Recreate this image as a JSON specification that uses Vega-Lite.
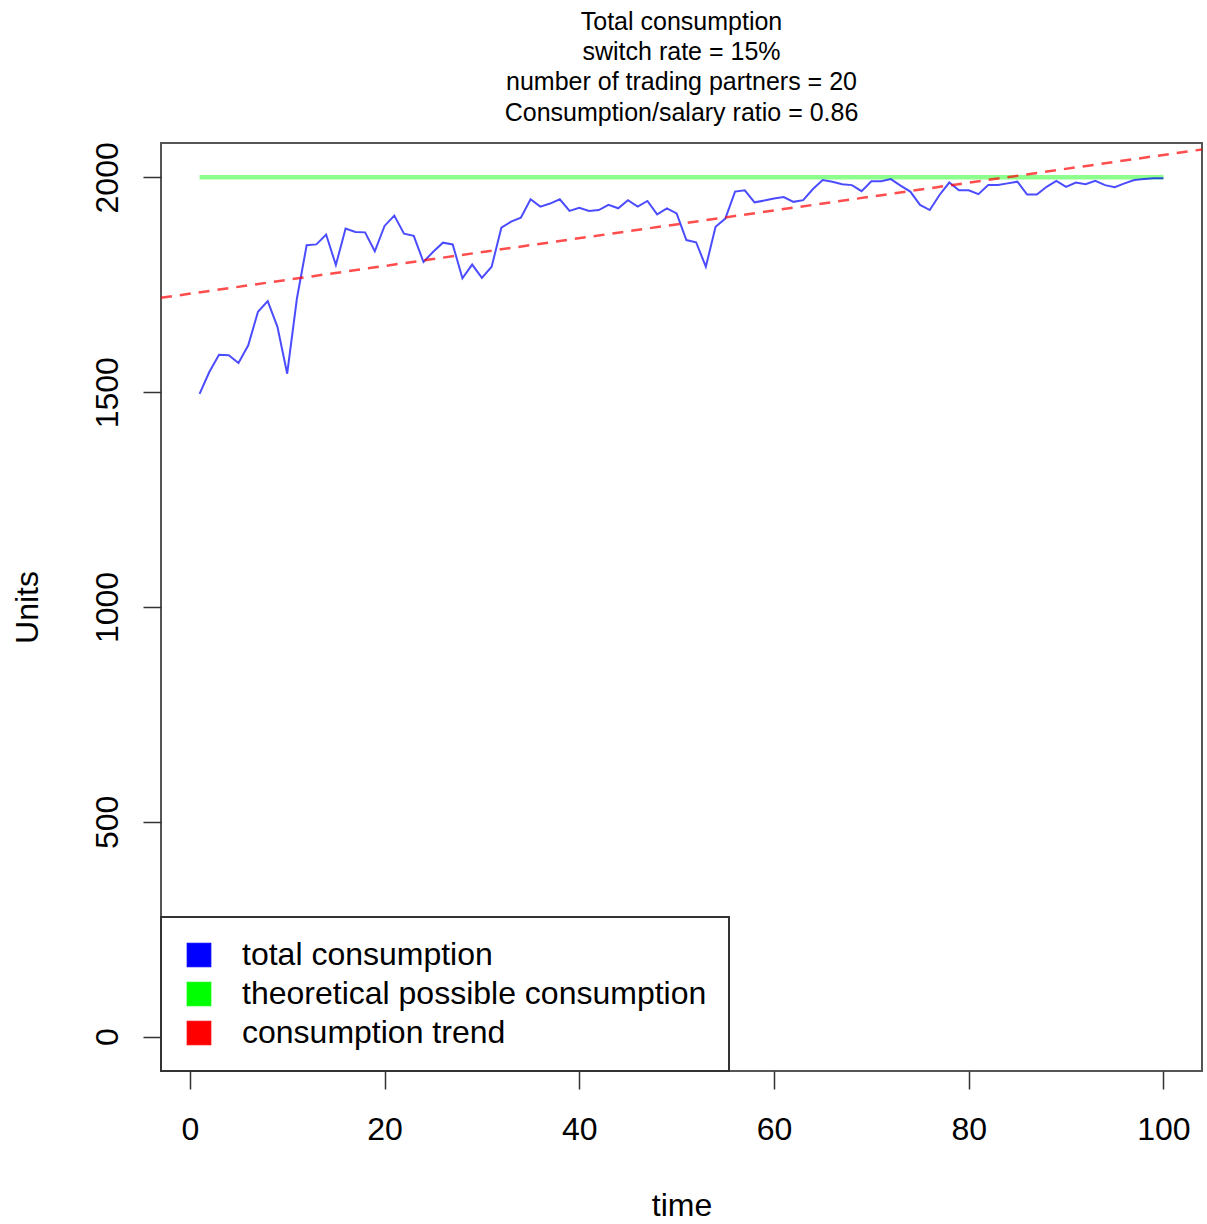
{
  "$schema": "https://vega.github.io/schema/vega-lite/v6.json",
  "width": 1041,
  "height": 928,
  "autosize": {"type": "none"},
  "padding": {"left": 161, "top": 143, "right": 5, "bottom": 153},
  "background": "white",
  "title": {
    "text": ["Total consumption", "switch rate = 15%", "number of trading partners = 20", "Consumption/salary ratio = 0.86"],
    "fontSize": 25,
    "lineHeight": 30.3,
    "font": "Liberation Sans",
    "fontWeight": "normal",
    "color": "black",
    "anchor": "middle",
    "frame": "group",
    "offset": 16
  },
  "datasets": {
    "total": [
      {"t":1,"v":1496},{"t":2,"v":1547},{"t":3,"v":1587},{"t":4,"v":1586},{"t":5,"v":1568},
      {"t":6,"v":1609},{"t":7,"v":1687},{"t":8,"v":1712},{"t":9,"v":1652},{"t":10,"v":1543},
      {"t":11,"v":1718},{"t":12,"v":1842},{"t":13,"v":1844},{"t":14,"v":1867},{"t":15,"v":1796},
      {"t":16,"v":1881},{"t":17,"v":1873},{"t":18,"v":1872},{"t":19,"v":1828},{"t":20,"v":1887},
      {"t":21,"v":1911},{"t":22,"v":1869},{"t":23,"v":1864},{"t":24,"v":1803},{"t":25,"v":1827},
      {"t":26,"v":1848},{"t":27,"v":1844},{"t":28,"v":1765},{"t":29,"v":1797},{"t":30,"v":1766},
      {"t":31,"v":1792},{"t":32,"v":1883},{"t":33,"v":1897},{"t":34,"v":1906},{"t":35,"v":1949},
      {"t":36,"v":1932},{"t":37,"v":1939},{"t":38,"v":1949},{"t":39,"v":1922},{"t":40,"v":1929},
      {"t":41,"v":1922},{"t":42,"v":1924},{"t":43,"v":1936},{"t":44,"v":1928},{"t":45,"v":1947},
      {"t":46,"v":1932},{"t":47,"v":1945},{"t":48,"v":1914},{"t":49,"v":1928},{"t":50,"v":1916},
      {"t":51,"v":1854},{"t":52,"v":1849},{"t":53,"v":1792},{"t":54,"v":1885},{"t":55,"v":1904},
      {"t":56,"v":1967},{"t":57,"v":1970},{"t":58,"v":1942},{"t":59,"v":1946},{"t":60,"v":1951},
      {"t":61,"v":1954},{"t":62,"v":1943},{"t":63,"v":1947},{"t":64,"v":1973},{"t":65,"v":1994},
      {"t":66,"v":1990},{"t":67,"v":1984},{"t":68,"v":1982},{"t":69,"v":1968},{"t":70,"v":1991},
      {"t":71,"v":1991},{"t":72,"v":1996},{"t":73,"v":1981},{"t":74,"v":1967},{"t":75,"v":1936},
      {"t":76,"v":1924},{"t":77,"v":1959},{"t":78,"v":1988},{"t":79,"v":1970},{"t":80,"v":1970},
      {"t":81,"v":1961},{"t":82,"v":1982},{"t":83,"v":1982},{"t":84,"v":1986},{"t":85,"v":1990},
      {"t":86,"v":1960},{"t":87,"v":1960},{"t":88,"v":1978},{"t":89,"v":1992},{"t":90,"v":1978},
      {"t":91,"v":1988},{"t":92,"v":1984},{"t":93,"v":1992},{"t":94,"v":1982},{"t":95,"v":1977},
      {"t":96,"v":1986},{"t":97,"v":1994},{"t":98,"v":1996},{"t":99,"v":1998},{"t":100,"v":1998}
    ],
    "theory": [
      {"t":1,"v":2000},{"t":100,"v":2000}
    ],
    "trend": [
      {"t":-2.96,"v":1719.6},{"t":103.96,"v":2065}
    ]
  },
  "encoding": {
    "x": {
      "field": "t",
      "type": "quantitative",
      "scale": {"domain": [-2.96, 103.96], "nice": false, "zero": false},
      "axis": {
        "values": [0, 20, 40, 60, 80, 100],
        "format": "d",
        "title": "time",
        "titleFontSize": 32,
        "titleFontWeight": "normal",
        "titleColor": "black",
        "titleX": 520.5,
        "titleY": 134,
        "titleBaseline": "middle",
        "labelFontSize": 32,
        "labelColor": "black",
        "labelPadding": 25,
        "labelFlush": false,
        "labelOverlap": false,
        "tickSize": 18,
        "tickColor": "#333",
        "tickWidth": 1.5,
        "domain": false,
        "grid": false
      }
    },
    "y": {
      "field": "v",
      "type": "quantitative",
      "scale": {"domain": [-80, 2080], "nice": false, "zero": false},
      "axis": {
        "values": [0, 500, 1000, 1500, 2000],
        "format": "d",
        "title": "Units",
        "titleFontSize": 32,
        "titleFontWeight": "normal",
        "titleColor": "black",
        "titleX": -134,
        "titleY": 464,
        "titleAngle": 270,
        "titleBaseline": "middle",
        "titleAlign": "center",
        "labelAngle": 270,
        "labelFontSize": 32,
        "labelColor": "black",
        "labelPadding": 19,
        "labelFlush": false,
        "labelOverlap": false,
        "tickSize": 18,
        "tickColor": "#333",
        "tickWidth": 1.5,
        "domain": false,
        "grid": false
      }
    }
  },
  "layer": [
    {
      "data": {"name": "theory"},
      "mark": {"type": "line", "strokeWidth": 4.5, "strokeOpacity": 0.45},
      "encoding": {
        "color": {
          "datum": "theoretical possible consumption",
          "scale": {"domain": ["total consumption", "theoretical possible consumption", "consumption trend"], "range": ["#0000ff", "#00ff00", "#ff0000"]},
          "legend": {
            "title": null,
            "orient": "bottom-left",
            "offset": 0,
            "padding": 22,
            "fillColor": "white",
            "strokeColor": "#333",
            "symbolType": "square",
            "symbolSize": 550,
            "symbolStrokeWidth": 1,
            "symbolStrokeColor": "black",
            "symbolOpacity": 1,
            "labelFontSize": 32,
            "labelFont": "Liberation Sans",
            "labelColor": "black",
            "labelOffset": 27,
            "labelLimit": 1000,
            "rowPadding": 7,
            "encode": {
              "symbols": {"update": {
                "fill": {"scale": "color", "field": "value"},
                "stroke": {"value": "#222"},
                "strokeWidth": {"value": 1.2},
                "strokeDash": {"value": []},
                "opacity": {"value": 1},
                "fillOpacity": {"value": 1},
                "strokeOpacity": {"value": 1}
              }},
              "legend": {"update": {"strokeWidth": {"value": 2}}}
            }
          }
        }
      }
    },
    {
      "data": {"name": "total"},
      "mark": {"type": "line", "strokeWidth": 2, "strokeOpacity": 0.7},
      "encoding": {
        "color": {"datum": "total consumption"}
      }
    },
    {
      "data": {"name": "trend"},
      "mark": {"type": "line", "strokeWidth": 2.5, "strokeOpacity": 0.7, "strokeDash": [11, 8]},
      "encoding": {
        "color": {"datum": "consumption trend"}
      }
    }
  ],
  "config": {
    "font": "Liberation Sans",
    "view": {"stroke": "#555", "strokeWidth": 2}
  }
}
